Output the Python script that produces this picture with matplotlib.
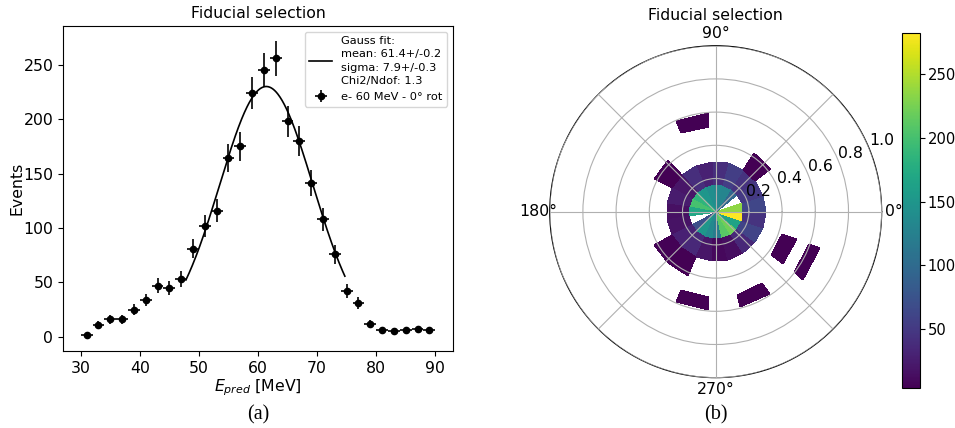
import numpy as np
import matplotlib
matplotlib.use("Agg")
import matplotlib.pyplot as plt

plt.rcParams["font.family"] = ["DejaVu Sans"]
plt.rcParams["font.size"] = 11.3

# ---- energy spectrum (left panel) ----
e_pred = np.arange(31, 90, 2)  # bin centres [MeV]
events = np.array([2, 11, 16, 16, 25, 34, 47, 45, 53, 81,
                   102, 116, 164, 175, 224, 245, 256, 198, 180, 141,
                   108, 76, 42, 31, 12, 6, 5, 6, 7, 6])
bin_halfwidth = 1.0

fit_mean = 61.4
fit_sigma = 7.9
fit_amp = 230.0
fit_range = (47.8, 74.7)
fit_label = "Gauss fit:\nmean: 61.4+/-0.2\nsigma: 7.9+/-0.3\nChi2/Ndof: 1.3"
data_label = "e- 60 MeV - 0\u00b0 rot"

# ---- polar 2D histogram (right panel) ----
n_phi = 19
r_edges = [0.0, 0.165, 0.30, 0.42, 0.515, 0.595, 0.665]
inner_counts = [235, np.nan, 95, 130, 133, 140, 150, 185, 200, 170,
                np.nan, 70, 150, 135, 120, 210, 222, 165, 282]
ring1_counts = [62, 50, 45, 55, 40, 30, 40, 20, 25, 15,
                18, 30, 35, 20, 10, 14, 35, 60, 45]
outer_ring = [2, 2, 2, 2, 3, 4, 4, 4, 5]
outer_bin = [2, 7, 11, 12, 17, 5, 13, 15, 17]
outer_count = [5, 4, 6, 5, 4, 4, 4, 4, 4]

W, H = 955, 428
fig = plt.figure(figsize=(W / 100, H / 100), dpi=100)

# left panel
ax = fig.add_axes([63 / W, 1 - 351 / H, 390 / W, 325 / H])
xf = np.linspace(fit_range[0], fit_range[1], 300)
yf = fit_amp * np.exp(-0.5 * ((xf - fit_mean) / fit_sigma) ** 2)
ax.plot(xf, yf, color="black", lw=1.2, label=fit_label)
ax.errorbar(e_pred, events, yerr=np.sqrt(events), xerr=bin_halfwidth,
            fmt="o", color="black", ms=4.5, elinewidth=1.2, capsize=0,
            label=data_label)
ax.set_title("Fiducial selection", fontsize=11.3)
ax.set_xlabel("$E_{pred}$ [MeV]", labelpad=1)
ax.set_ylabel("Events", labelpad=-1)
leg = ax.legend(loc="upper right", fontsize=8.2, labelspacing=0.55)
for t in leg.get_texts():
    t.set_linespacing(1.4)

# right panel
pax = fig.add_axes([549.7 / W, 1 - 377.7 / H, 332 / W, 332 / H],
                   projection="polar")
phi_edges = np.linspace(0, 2 * np.pi, n_phi + 1)
counts = np.full((len(r_edges) - 1, n_phi), np.nan)
counts[0] = inner_counts
counts[1] = ring1_counts
for ri, bi, c in zip(outer_ring, outer_bin, outer_count):
    counts[ri, bi] = c
mesh = pax.pcolormesh(phi_edges, r_edges, np.ma.masked_invalid(counts),
                      cmap="viridis", shading="flat")
pax.set_ylim(0, 1.0)
pax.set_rticks([0.2, 0.4, 0.6, 0.8, 1.0])
pax.set_thetagrids(np.arange(0, 360, 45),
                   ["0\u00b0", "", "90\u00b0", "", "180\u00b0", "", "270\u00b0", ""])
pax.tick_params(axis="x", pad=-2)
pax.grid(True, color="#b0b0b0", lw=0.8)
pax.set_axisbelow(False)
fig.text(715.7 / W, 1 - 16 / H, "Fiducial selection", fontsize=11.3,
         ha="center", va="center")

cax = fig.add_axes([901.5 / W, 1 - 388 / H, 18 / W, 355 / H])
cb = fig.colorbar(mesh, cax=cax)
cb.ax.tick_params(labelsize=10.6, pad=2.5)

# panel captions
fig.text(258 / W, 1 - 415 / H, "(a)", family="Liberation Serif",
         fontsize=14.5, ha="center", va="center")
fig.text(716 / W, 1 - 415 / H, "(b)", family="Liberation Serif",
         fontsize=14.5, ha="center", va="center")

fig.savefig("out.png", dpi=100)
